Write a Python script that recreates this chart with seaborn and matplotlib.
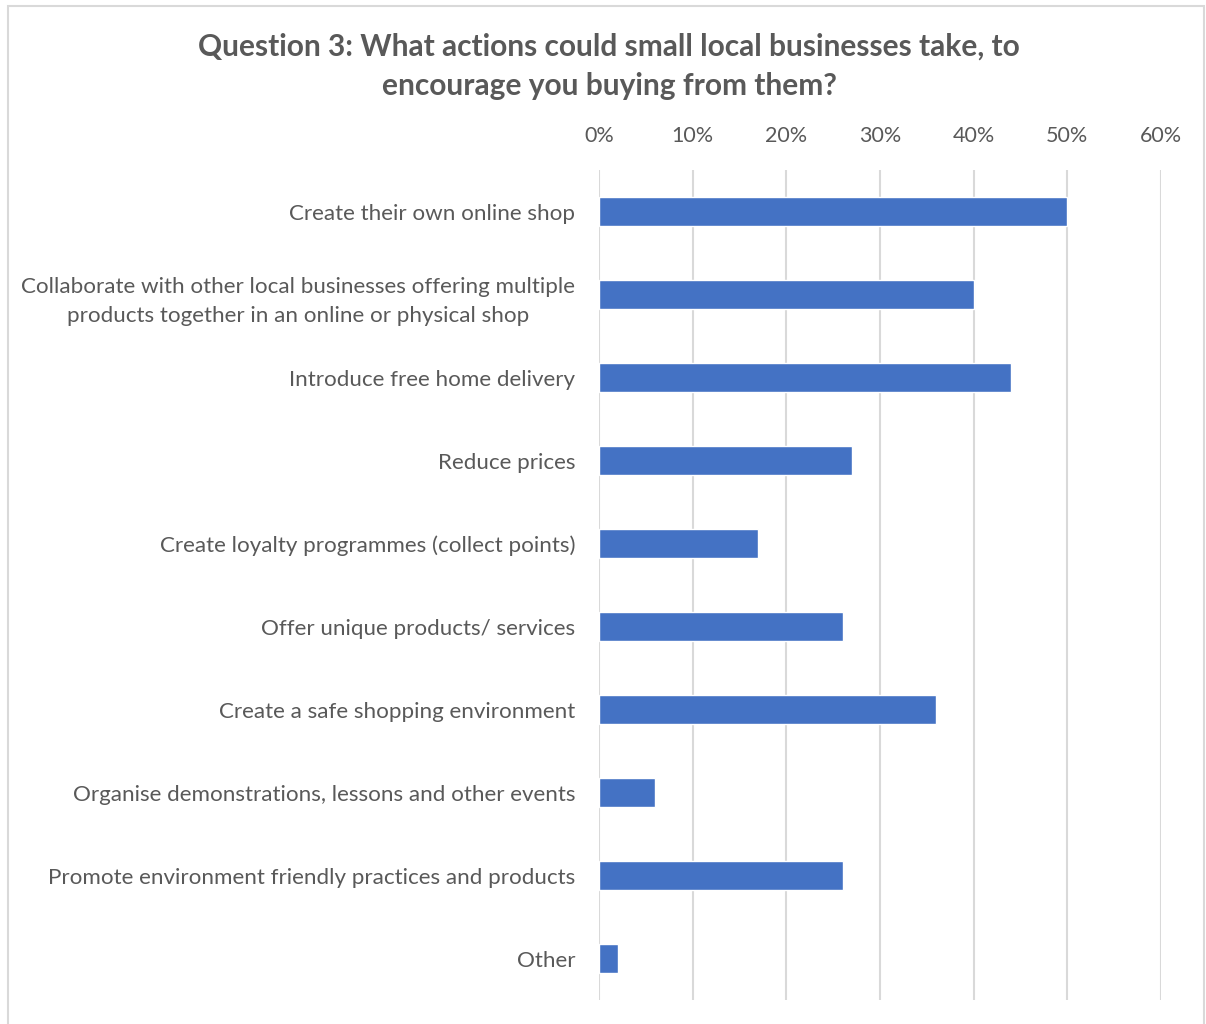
import matplotlib
matplotlib.use("Agg")
import matplotlib.pyplot as plt
import seaborn as sns
import pandas as pd
from matplotlib.patches import Rectangle
from matplotlib.ticker import PercentFormatter

categories = [
    "Create their own online shop",
    "Collaborate with other local businesses offering multiple\nproducts together in an online or physical shop",
    "Introduce free home delivery",
    "Reduce prices",
    "Create loyalty programmes (collect points)",
    "Offer unique products/ services",
    "Create a safe shopping environment",
    "Organise demonstrations, lessons and other events",
    "Promote environment friendly practices and products",
    "Other",
]
shares = [50, 40, 44, 27, 17, 26, 36, 6, 26, 2]
x_ticks = [0, 10, 20, 30, 40, 50, 60]

df = pd.DataFrame({"action": categories, "share": shares})

sns.set_theme(style="white")
plt.rcParams["font.family"] = ["Lato", "DejaVu Sans"]

text_color = "#595959"
grid_color = "#d9d9d9"

fig = plt.figure(figsize=(12.06, 10.24), dpi=100)
ax = fig.add_axes([0.4967, 0.0234, 0.466, 0.8105])

sns.barplot(data=df, x="share", y="action", orient="h", color="#4472C4",
            saturation=1, width=0.35, ax=ax)

ax.set_xlim(0, 60)
ax.set_xticks(x_ticks)
ax.xaxis.set_major_formatter(PercentFormatter(decimals=0))
ax.xaxis.tick_top()
ax.xaxis.set_label_position("top")
ax.set_xlabel("")
ax.set_ylabel("")
ax.grid(axis="x", color=grid_color, linewidth=1.5)
ax.set_axisbelow(True)
for s in ax.spines.values():
    s.set_visible(False)
ax.tick_params(axis="x", length=0, pad=17, labelsize=15.5, labelcolor=text_color)
ax.tick_params(axis="y", length=0, pad=17, labelsize=16.1, labelcolor=text_color)
for lbl in ax.get_yticklabels():
    lbl.set_horizontalalignment("right")
    lbl.set_multialignment("center")
    lbl.set_linespacing(1.6)

fig.text(0.505, 0.935, "Question 3: What actions could small local businesses take, to\nencourage you buying from them?",
         ha="center", va="center", fontsize=21.5, fontweight="bold", color=text_color,
         linespacing=1.5)

fig.patches.append(Rectangle((0.0066, -0.01), 0.9917, 1.004, transform=fig.transFigure,
                             fill=False, edgecolor=grid_color, linewidth=1.5))

fig.savefig("out.png", dpi=100, facecolor="white")
